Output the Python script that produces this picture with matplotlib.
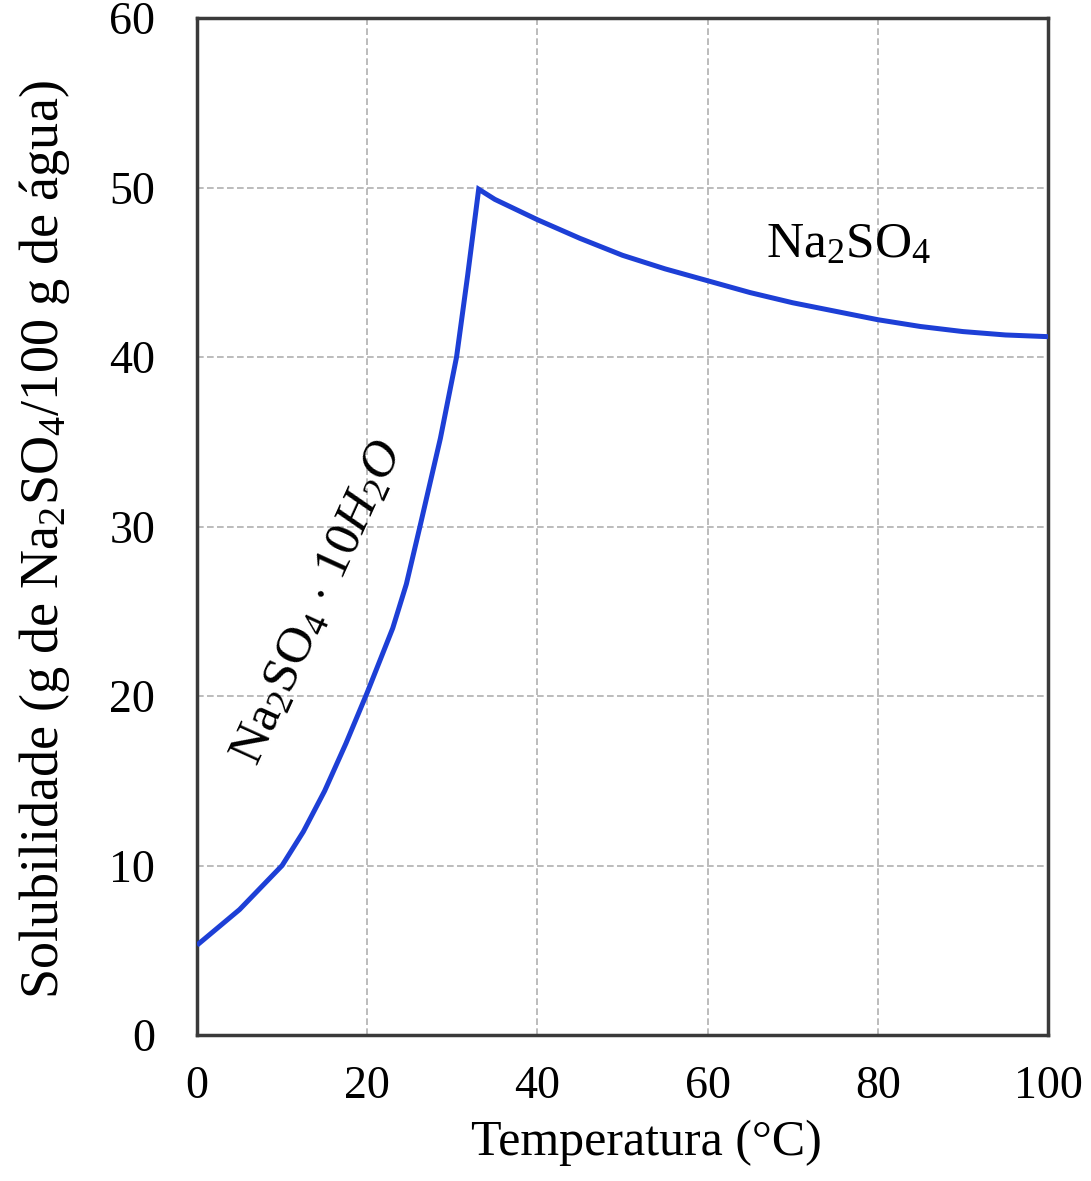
import matplotlib
matplotlib.use("Agg")
import matplotlib.pyplot as plt

plt.rcParams['font.family'] = ['Liberation Serif', 'DejaVu Serif']
plt.rcParams['mathtext.fontset'] = 'custom'
plt.rcParams['mathtext.rm'] = 'Liberation Serif'
plt.rcParams['mathtext.it'] = 'Liberation Serif:italic'

# Data
hydrate_temp = [0, 5, 10, 12.5, 15, 17.5, 20, 23, 24.6, 26.2, 28.6, 30.5, 31.8, 33.1]
hydrate_sol = [5.3, 7.4, 10.0, 12.0, 14.4, 17.2, 20.2, 24.0, 26.6, 30.0, 35.2, 40.0, 44.8, 49.9]
anhydrous_temp = [33.1, 35, 40, 45, 50, 55, 60, 65, 70, 75, 80, 85, 90, 95, 100]
anhydrous_sol = [49.9, 49.3, 48.1, 47.0, 46.0, 45.2, 44.5, 43.8, 43.2, 42.7, 42.2,
                 41.8, 41.5, 41.3, 41.2]

x_ticks = [0, 20, 40, 60, 80, 100]
y_ticks = [0, 10, 20, 30, 40, 50, 60]

fig = plt.figure(figsize=(10.91, 11.81), dpi=100)
ax = fig.add_axes([197/1091, 1 - 1035/1181, (1048-197)/1091, (1035-18)/1181])

line_color = '#1d3fd6'
ax.plot(hydrate_temp + anhydrous_temp[1:], hydrate_sol + anhydrous_sol[1:],
        color=line_color, lw=3.6, solid_joinstyle='miter', solid_capstyle='butt', zorder=3)

ax.set_xlim(0, 100)
ax.set_ylim(0, 60)
ax.set_xticks(x_ticks)
ax.set_yticks(y_ticks)
ax.tick_params(length=0, labelsize=33, pad=22)
ax.tick_params(axis='y', pad=30)

ax.grid(True, color='#b0b0b0', linestyle=(0, (4, 2)), lw=1.2)
for s in ax.spines.values():
    s.set_color('#3a3a3a')
    s.set_linewidth(2.5)

ax.set_xlabel('Temperatura (°C)', fontsize=36)
ax.xaxis.set_label_coords(0.528, -0.083)
ax.set_ylabel('Solubilidade (g de Na$_2$SO$_4$/100 g de água)', fontsize=39)
ax.yaxis.set_label_coords(-0.147, 0.487)

ax.text(76.6, 46.6, 'Na$_2$SO$_4$', fontsize=37, ha='center', va='center')
ax.text(14.2, 25.5, '$\\mathrm{Na_2SO_4}$ $\\cdot$ $\\mathit{10H_2O}$', fontsize=37,
        ha='center', va='center', rotation=65.5, rotation_mode='anchor')

fig.savefig('out.png', dpi=100)
